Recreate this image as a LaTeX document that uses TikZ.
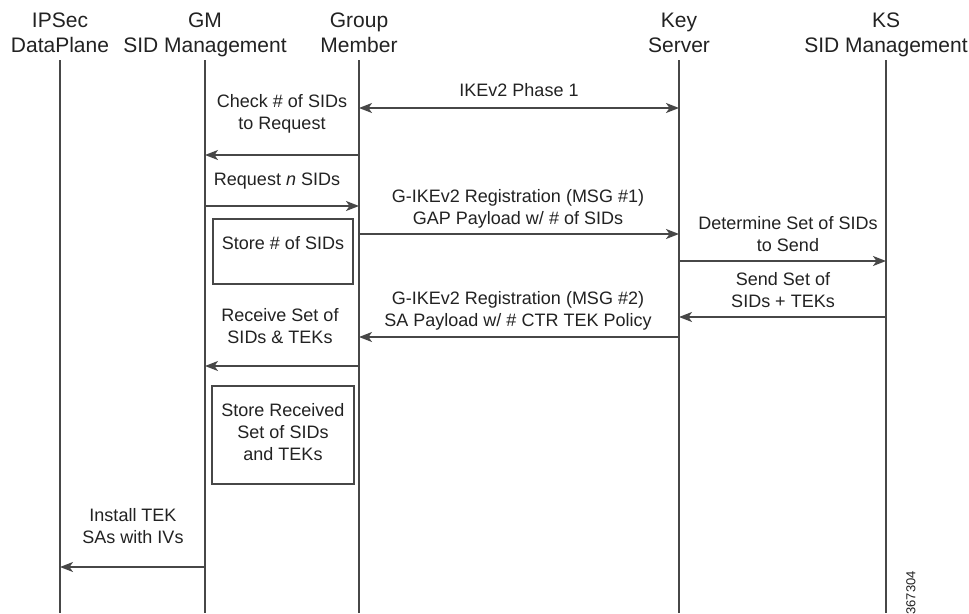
\documentclass[tikz,border=0pt]{standalone}
\usepackage{fontspec}
\setmainfont{Liberation Sans}
\usetikzlibrary{arrows.meta}
\definecolor{ln}{HTML}{474747}
\definecolor{tx}{HTML}{222222}
\begin{document}
\begin{tikzpicture}[x=1pt,y=-1pt,
  head/.style={font=\fontsize{21}{24.5}\selectfont, align=center, inner sep=0pt, text=tx},
  lbl/.style={font=\fontsize{18}{22}\selectfont, align=center, inner sep=0pt, text=tx},
  life/.style={draw=ln, line width=1.6pt},
  tip/.style={},
  msg/.style={draw=ln, line width=1.5pt, -{Stealth[length=13pt,width=10pt,inset=3.5pt]}},
  dmsg/.style={draw=ln, line width=1.5pt, {Stealth[length=13pt,width=10pt,inset=3.5pt]}-{Stealth[length=13pt,width=10pt,inset=3.5pt]}},
  stbox/.style={draw=ln, line width=1.5pt, inner sep=0pt}
]
\useasboundingbox (0,0) rectangle (969,613);
\fill[white] (0,0) rectangle (969,613);

% headers
\node[head] (h1) at (60,35.3) {\strut IPSec\\\strut DataPlane};
\node[head] (h2) at (205,35.3) {\strut GM\\\strut SID Management};
\node[head] (h3) at (359,35.3) {\strut Group\\\strut Member};
\node[head] (h4) at (679,35.3) {\strut Key\\\strut Server};
\node[head] (h5) at (886,35.3) {\strut KS\\\strut SID Management};

% lifelines
\foreach \n/\x in {1/60,2/205,3/359,4/679,5/886}{
  \coordinate (t\n) at (\x,60);
  \coordinate (b\n) at (\x,613);
  \draw[life] (t\n) -- (b\n);
}

% message endpoints
\coordinate (a3) at (359,108); \coordinate (a4) at (679,108);
\coordinate (c3) at (359,155); \coordinate (c2) at (205,155);
\coordinate (d2) at (205,206); \coordinate (d3) at (359,206);
\coordinate (e3) at (359,234); \coordinate (e4) at (679,234);
\coordinate (f4) at (679,261); \coordinate (f5) at (886,261);
\coordinate (g5) at (886,317); \coordinate (g4) at (679,317);
\coordinate (k4) at (679,337); \coordinate (k3) at (359,337);
\coordinate (m3) at (359,366); \coordinate (m2) at (205,366);
\coordinate (n2) at (205,567); \coordinate (n1) at (60,567);

\draw[dmsg] (a3) -- (a4);
\draw[msg] (c3) -- (c2);
\draw[msg] (d2) -- (d3);
\draw[msg] (e3) -- (e4);
\draw[msg] (f4) -- (f5);
\draw[msg] (g5) -- (g4);
\draw[msg] (k4) -- (k3);
\draw[msg] (m3) -- (m2);
\draw[msg] (n2) -- (n1);

% labels
\node[lbl] (l1) at (519,90) {IKEv2 Phase 1};
\node[lbl] (l2) at (282,114) {Check \# of SIDs\\to Request};
\node[lbl] (l3) at (277,181) {Request \textit{n} SIDs};
\node[lbl] (l4) at (518,209) {G-IKEv2 Registration (MSG \#1)\\GAP Payload w/ \# of SIDs};
\node[lbl] (l5) at (788,234) {Determine Set of SIDs\\to Send};
\node[lbl] (l6) at (783,290) {Send Set of\\SIDs + TEKs};
\node[lbl] (l7) at (518,311) {G-IKEv2 Registration (MSG \#2)\\SA Payload w/ \# CTR TEK Policy};
\node[lbl] (l8) at (280,326) {Receive Set of\\SIDs \& TEKs};
\node[lbl] (l9) at (133,526) {Install TEK\\SAs with IVs};

% boxes
\node[stbox, minimum width=140pt, minimum height=65pt] (box1) at (283,251.5) {};
\node[lbl] (box1t) at (283,243) {Store \# of SIDs};
\node[stbox, minimum width=142pt, minimum height=98pt] (box2) at (283,435) {};
\node[lbl] (box2t) at (283,432) {Store Received\\Set of SIDs\\and TEKs};

% figure number
\node[rotate=90, anchor=east, inner sep=0pt, text=tx, font=\fontsize{13}{14}\selectfont] (fig) at (911,571) {367304};
\end{tikzpicture}
\end{document}
